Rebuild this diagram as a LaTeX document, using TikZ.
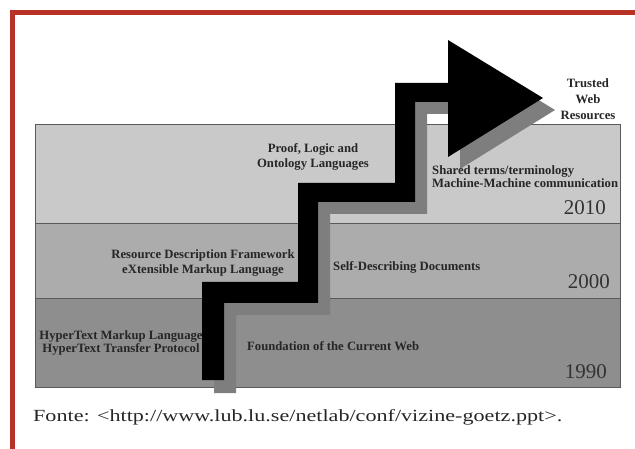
\documentclass[tikz,border=0pt]{standalone}
\usepackage{fontspec}
\usepackage{graphicx}
\setmainfont{Liberation Serif}
\definecolor{framered}{RGB}{184,50,40}
\definecolor{bandA}{RGB}{201,201,201}
\definecolor{bandB}{RGB}{172,172,172}
\definecolor{bandC}{RGB}{142,142,142}
\definecolor{shadowgray}{RGB}{126,126,126}
\definecolor{bandline}{RGB}{90,90,90}
\tikzset{
  band/.style={fill=#1, draw=bandline, line width=0.9pt},
  lbl/.style={font=\fontsize{12.7}{13}\selectfont\bfseries, inner sep=0pt, text=black!85},
  year/.style={font=\fontsize{21}{22}\selectfont, inner sep=0pt, text=black!80, anchor=east},
}
\begin{document}
\begin{tikzpicture}[x=1pt,y=-1pt]
\useasboundingbox (0,0) rectangle (635,449);
% red frame
\draw[framered, line width=5pt] (12.5,449) -- (12.5,12.5) -- (635,12.5);
% bands
\path[band=bandA] (35,124) rectangle (620,223);
\path[band=bandB] (35,223) rectangle (620,298);
\path[band=bandC] (35,298) rectangle (620,387);
% text under arrow
\node[lbl, align=center] (html) at (121,342.5) {HyperText Markup Language\\HyperText Transfer Protocol};
% shadow staircase
\fill[shadowgray, shift={(12,12)}]
  (202,381) -- (202,282) -- (298,282) -- (298,183) -- (395,183) -- (395,83) -- (448,83) -- (448,40)
  -- (543,98) -- (448,157) -- (448,102) -- (415,102) -- (415,202) -- (318,202) -- (318,303)
  -- (224,303) -- (224,381) -- cycle;
% black staircase
\fill[black]
  (202,380) -- (202,282) -- (298,282) -- (298,183) -- (395,183) -- (395,83) -- (448,83) -- (448,40)
  -- (543,98) -- (448,157) -- (448,102) -- (415,102) -- (415,202) -- (318,202) -- (318,303)
  -- (224,303) -- (224,380) -- cycle;
% labels
\node[lbl, align=center] (trusted) at (588,99) {Trusted\\[3pt]Web\\[3pt]Resources};
\node[lbl, align=center] (proof) at (313,156.5) {Proof, Logic and\\[2pt]Ontology Languages};
\node[lbl, align=left, anchor=west] (shared) at (432,177) {Shared terms/terminology\\Machine-Machine communication};
\node[lbl, align=center] (rdf) at (203,262.5) {Resource Description Framework\\[2pt]eXtensible Markup Language};
\node[lbl, anchor=west] (self) at (333,267) {Self-Describing Documents};
\node[lbl, anchor=west] (found) at (247,346) {Foundation of the Current Web};
\node[year] (y2010) at (606,208) {2010};
\node[year] (y2000) at (610,282) {2000};
\node[year] (y1990) at (607,372) {1990};
% caption
\node[anchor=base west, inner sep=0pt, font=\fontsize{17}{18}\selectfont, text=black!85] (cap) at (33,421) {\resizebox{529pt}{\height}{Fonte: <http://www.lub.lu.se/netlab/conf/vizine-goetz.ppt>.}};
\end{tikzpicture}
\end{document}
